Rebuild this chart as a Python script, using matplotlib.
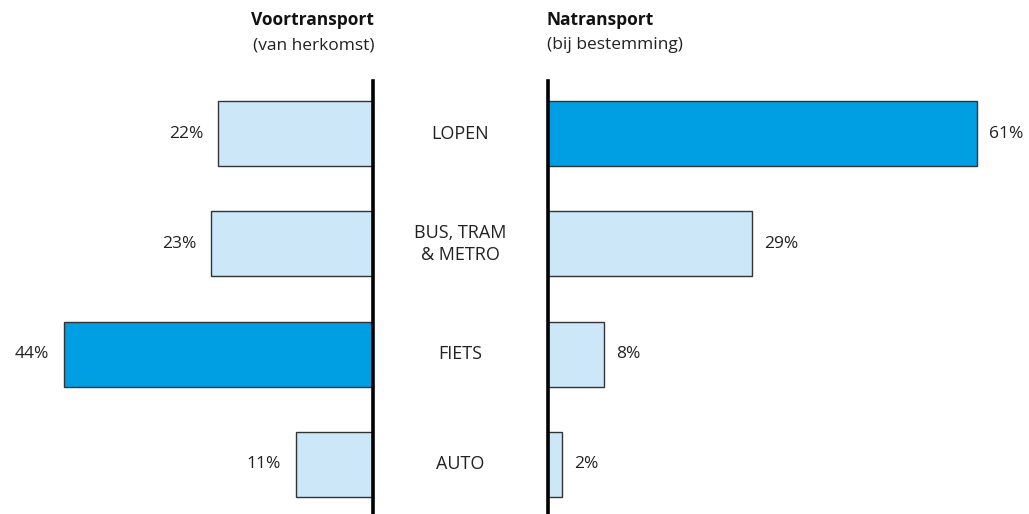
import matplotlib
matplotlib.use("Agg")
import matplotlib.pyplot as plt

categories = ["LOPEN", "BUS, TRAM\n& METRO", "FIETS", "AUTO"]
voortransport = [22, 23, 44, 11]
natransport = [61, 29, 8, 2]

LIGHT = "#CCE7F8"
DARK = "#009FE3"
EDGE = "#333333"

plt.rcParams['font.family'] = ['Open Sans', 'DejaVu Sans']

W, H = 1029, 514
fig = plt.figure(figsize=(W / 100, H / 100), dpi=100)

px_per = 7.03
axis_top = 80
y0, y1 = -0.485, 3.449
h = (H - axis_top) / H

def colors(vals):
    m = max(vals)
    return [DARK if v == m else LIGHT for v in vals]

ypos = list(range(len(categories)))

# left panel
xl = 373
axL = fig.add_axes([0, 0, xl / W, h])
axL.barh(ypos, voortransport, height=0.59, color=colors(voortransport),
         edgecolor=EDGE, linewidth=1.0)
axL.set_xlim(xl / px_per, 0)
axL.set_ylim(y1, y0)
axL.axis("off")
axL.axvline(0, color="black", lw=2.6, ymin=0, ymax=0.997, clip_on=False)
for y, v in zip(ypos, voortransport):
    axL.text(v + 2.1, y, f"{v}%", ha="right", va="center", fontsize=12.5, color="#222222")

# right panel
xr = 548
axR = fig.add_axes([xr / W, 0, (W - xr) / W, h])
axR.barh(ypos, natransport, height=0.59, color=colors(natransport),
         edgecolor=EDGE, linewidth=1.0)
axR.set_xlim(0, (W - xr) / px_per)
axR.set_ylim(y1, y0)
axR.axis("off")
axR.axvline(0, color="black", lw=2.6, ymin=0, ymax=0.997, clip_on=False)
for y, v in zip(ypos, natransport):
    axR.text(v + 1.7, y, f"{v}%", ha="left", va="center", fontsize=12.5, color="#222222")

# category labels in the middle
for y, c in zip(ypos, categories):
    axL.text(-(460.5 - xl) / px_per, y, c, ha="center", va="center",
             fontsize=13, color="#222222", linespacing=1.3, clip_on=False)

# headers
fig.text(xl / W + 0.001, 1 - 20 / H, "Voortransport", ha="right", va="center",
         fontsize=12.5, fontweight="bold", color="#111111")
fig.text(xl / W + 0.001, 1 - 45 / H, "(van herkomst)", ha="right", va="center",
         fontsize=12.5, color="#222222")
fig.text(xr / W - 0.001, 1 - 20 / H, "Natransport", ha="left", va="center",
         fontsize=12.5, fontweight="bold", color="#111111")
fig.text(xr / W - 0.001, 1 - 45 / H, "(bij bestemming)", ha="left", va="center",
         fontsize=12.5, color="#222222")

fig.savefig("out.png", dpi=100)
